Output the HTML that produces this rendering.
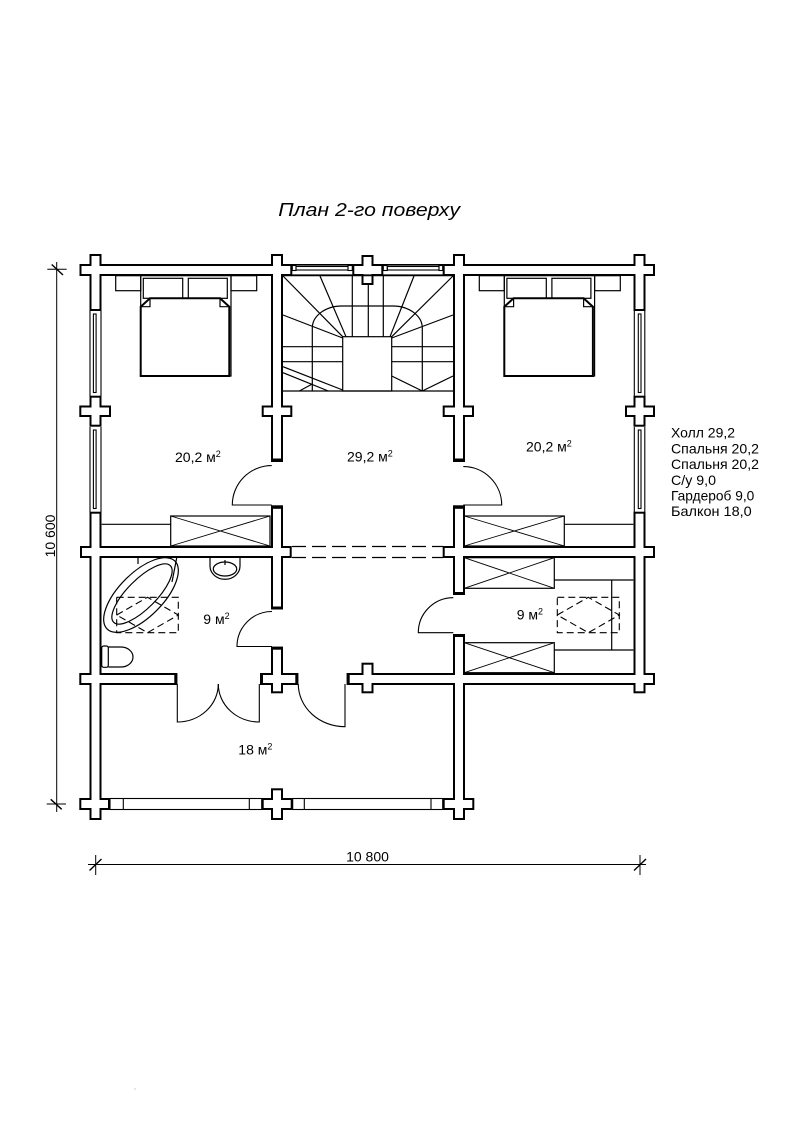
<!DOCTYPE html>
<html><head><meta charset="utf-8"><style>html,body{margin:0;padding:0;background:#fff}svg{display:block}</style></head>
<body>
<svg width="794" height="1123" viewBox="0 0 794 1123" xmlns="http://www.w3.org/2000/svg" font-family="'Liberation Sans', Arial, sans-serif">
<rect width="794" height="1123" fill="#fff"/>

<!-- Title -->
<text x="278.3" y="216" font-size="18.5" font-style="italic" textLength="181.7" lengthAdjust="spacingAndGlyphs">План 2-го поверху</text>

<!-- Walls: black outline layer -->
<g fill="#000" stroke="#000" stroke-width="4">
<rect x="81.5" y="266" width="208.8" height="8"/>
<rect x="354.3" y="266" width="27" height="8"/>
<rect x="444.7" y="266" width="208.3" height="8"/>
<rect x="91.5" y="256" width="8" height="53"/>
<rect x="91.5" y="397.7" width="8" height="27"/>
<rect x="81.3" y="407.5" width="27.7" height="7.5"/>
<rect x="91.5" y="513.7" width="8" height="304.3"/>
<rect x="273" y="256" width="8" height="203.7"/>
<rect x="263.7" y="407.5" width="26.6" height="7.5"/>
<rect x="273" y="507.5" width="8" height="100"/>
<rect x="273" y="648.7" width="8" height="42.6"/>
<rect x="273" y="790.3" width="8" height="27.7"/>
<rect x="263.7" y="800" width="27" height="8"/>
<rect x="363.5" y="257" width="8" height="26"/>
<rect x="363.5" y="664.7" width="8" height="26.6"/>
<rect x="455" y="256" width="8" height="203.7"/>
<rect x="444.7" y="407.5" width="27.3" height="7.5"/>
<rect x="455" y="507.5" width="8" height="85.5"/>
<rect x="455" y="636" width="8" height="182"/>
<rect x="444.7" y="800" width="27.6" height="8"/>
<rect x="635.5" y="256" width="8" height="53"/>
<rect x="635.5" y="397.7" width="8" height="27"/>
<rect x="627" y="407.5" width="26" height="7.5"/>
<rect x="635.5" y="513.7" width="8" height="177.6"/>
<rect x="82" y="548" width="207.7" height="8"/>
<rect x="444.7" y="548" width="208.3" height="8"/>
<rect x="81.3" y="675" width="94" height="8"/>
<rect x="262" y="675" width="34.3" height="8"/>
<rect x="348.7" y="675" width="304.3" height="8"/>
<rect x="81.3" y="800" width="26.7" height="8"/>
</g>
<!-- Walls: white fill layer -->
<g fill="#fff">
<rect x="81.5" y="266" width="208.8" height="8"/>
<rect x="354.3" y="266" width="27" height="8"/>
<rect x="444.7" y="266" width="208.3" height="8"/>
<rect x="91.5" y="256" width="8" height="53"/>
<rect x="91.5" y="397.7" width="8" height="27"/>
<rect x="81.3" y="407.5" width="27.7" height="7.5"/>
<rect x="91.5" y="513.7" width="8" height="304.3"/>
<rect x="273" y="256" width="8" height="203.7"/>
<rect x="263.7" y="407.5" width="26.6" height="7.5"/>
<rect x="273" y="507.5" width="8" height="100"/>
<rect x="273" y="648.7" width="8" height="42.6"/>
<rect x="273" y="790.3" width="8" height="27.7"/>
<rect x="263.7" y="800" width="27" height="8"/>
<rect x="363.5" y="257" width="8" height="26"/>
<rect x="363.5" y="664.7" width="8" height="26.6"/>
<rect x="455" y="256" width="8" height="203.7"/>
<rect x="444.7" y="407.5" width="27.3" height="7.5"/>
<rect x="455" y="507.5" width="8" height="85.5"/>
<rect x="455" y="636" width="8" height="182"/>
<rect x="444.7" y="800" width="27.6" height="8"/>
<rect x="635.5" y="256" width="8" height="53"/>
<rect x="635.5" y="397.7" width="8" height="27"/>
<rect x="627" y="407.5" width="26" height="7.5"/>
<rect x="635.5" y="513.7" width="8" height="177.6"/>
<rect x="82" y="548" width="207.7" height="8"/>
<rect x="444.7" y="548" width="208.3" height="8"/>
<rect x="81.3" y="675" width="94" height="8"/>
<rect x="262" y="675" width="34.3" height="8"/>
<rect x="348.7" y="675" width="304.3" height="8"/>
<rect x="81.3" y="800" width="26.7" height="8"/>
</g>

<!-- Door jamb caps -->
<g fill="#000">
<rect x="271" y="458.5" width="12" height="3.5"/>
<rect x="271" y="505.3" width="12" height="3.5"/>
<rect x="271" y="606.5" width="12" height="3"/>
<rect x="271" y="646.7" width="12" height="3"/>
<rect x="453" y="458.5" width="12" height="3.5"/>
<rect x="453" y="505.3" width="12" height="3.5"/>
<rect x="453" y="592" width="12" height="3"/>
<rect x="453" y="634" width="12" height="3"/>
<rect x="174.3" y="673" width="3" height="12"/>
<rect x="260" y="673" width="3" height="12"/>
<rect x="295.3" y="673" width="3" height="12"/>
<rect x="346.7" y="673" width="3" height="12"/>
</g>

<!-- Windows -->
<g fill="none" stroke="#000" stroke-width="1.1">
<line x1="90" y1="311" x2="90" y2="396"/><line x1="101" y1="311" x2="101" y2="396"/>
<rect x="93.4" y="314" width="2.7" height="78.5"/>
<line x1="90" y1="427" x2="90" y2="512"/><line x1="101" y1="427" x2="101" y2="512"/>
<rect x="93.4" y="430" width="2.7" height="78.5"/>
<line x1="634.3" y1="311" x2="634.3" y2="396"/><line x1="644.8" y1="311" x2="644.8" y2="396"/>
<rect x="638.3" y="314" width="2.7" height="78.5"/>
<line x1="634.3" y1="427" x2="634.3" y2="512"/><line x1="644.8" y1="427" x2="644.8" y2="512"/>
<rect x="638.3" y="430" width="2.7" height="78.5"/>
<line x1="292" y1="264.8" x2="352.5" y2="264.8" stroke-width="1.6"/>
<rect x="296" y="266.5" width="52" height="3.5"/>
<rect x="292.3" y="265.5" width="3.7" height="5"/>
<rect x="348" y="265.5" width="4.3" height="5"/>
<line x1="383" y1="264.8" x2="443" y2="264.8" stroke-width="1.6"/>
<rect x="387.3" y="266.5" width="51.7" height="3.5"/>
<rect x="383.3" y="265.5" width="4" height="5"/>
<rect x="439" y="265.5" width="3.7" height="5"/>
<rect x="110" y="798.5" width="151.7" height="11"/>
<line x1="123.3" y1="798.5" x2="123.3" y2="809.5"/>
<line x1="249.3" y1="798.5" x2="249.3" y2="809.5"/>
<rect x="292.7" y="798.5" width="150" height="11"/>
<line x1="304.3" y1="798.5" x2="304.3" y2="809.5"/>
<line x1="431" y1="798.5" x2="431" y2="809.5"/>
</g>
<line x1="283" y1="275.3" x2="453" y2="275.3" stroke="#000" stroke-width="1.8"/>

<!-- Stairs -->
<g fill="none" stroke="#000" stroke-width="1.2">
<line x1="283" y1="391" x2="453" y2="391"/>
<rect x="342.7" y="336.7" width="49" height="54.3"/>
<path d="M312.3,391 V328 A29.5,22 0 0 1 341.8,306 H392.8 A29.5,22 0 0 1 422.3,328 V391"/>
<line x1="283" y1="276" x2="342.7" y2="336.7"/>
<line x1="320" y1="276" x2="346" y2="336.7"/>
<line x1="283" y1="315" x2="342.7" y2="338"/>
<line x1="352.3" y1="276" x2="352.3" y2="336.7"/>
<line x1="368.3" y1="283" x2="368.3" y2="336.7"/>
<line x1="383.3" y1="276" x2="383.3" y2="336.7"/>
<line x1="453" y1="276" x2="391.7" y2="336.7"/>
<line x1="414" y1="276" x2="390" y2="336.7"/>
<line x1="453" y1="315" x2="391.7" y2="338"/>
<line x1="283" y1="346.7" x2="342.7" y2="346.7"/>
<line x1="283" y1="361.7" x2="342.7" y2="361.7"/>
<line x1="391.7" y1="346.7" x2="453" y2="346.7"/>
<line x1="391.7" y1="361.7" x2="453" y2="361.7"/>
<line x1="391.7" y1="376" x2="422.3" y2="391"/>
<line x1="422.3" y1="391" x2="453" y2="376"/>
<line x1="283" y1="366.7" x2="342.7" y2="390"/>
<line x1="283" y1="372.7" x2="328.3" y2="391"/>
<line x1="299.3" y1="391" x2="312.3" y2="384"/>
</g>

<!-- Dashed wall section -->
<g stroke="#000" stroke-width="1.2" stroke-dasharray="14,6">
<line x1="292" y1="546.5" x2="443" y2="546.5"/>
<line x1="292" y1="557.5" x2="443" y2="557.5"/>
</g>

<!-- Beds -->
<g fill="none" stroke="#000" stroke-width="1.2">
<rect x="115.7" y="275.7" width="25" height="15"/>
<rect x="231" y="275.7" width="25.7" height="15"/>
<rect x="140.7" y="275.7" width="90.3" height="100.3"/>
<rect x="143.3" y="278.3" width="39.4" height="20"/>
<rect x="188.3" y="278.3" width="39" height="20"/>
<path d="M140.7,306.7 L150,298.3 L220,298.3 L229.3,306.7 L229.3,376 L140.7,376 Z" stroke-width="2"/>
<path d="M150,298.3 V306.7 H140.7 M220,298.3 V306.7 H229.3"/>
</g>
<g fill="none" stroke="#000" stroke-width="1.2" transform="translate(363.6,0)">
<rect x="115.7" y="275.7" width="25" height="15"/>
<rect x="231" y="275.7" width="25.7" height="15"/>
<rect x="140.7" y="275.7" width="90.3" height="100.3"/>
<rect x="143.3" y="278.3" width="39.4" height="20"/>
<rect x="188.3" y="278.3" width="39" height="20"/>
<path d="M140.7,306.7 L150,298.3 L220,298.3 L229.3,306.7 L229.3,376 L140.7,376 Z" stroke-width="2"/>
<path d="M150,298.3 V306.7 H140.7 M220,298.3 V306.7 H229.3"/>
</g>

<!-- Wardrobes -->
<g fill="none" stroke="#000" stroke-width="1.2">
<rect x="170.7" y="516" width="99.3" height="30"/>
<line x1="101.7" y1="524.3" x2="170.7" y2="524.3"/>
<rect x="464.3" y="516" width="100" height="30"/>
<line x1="564.3" y1="524.3" x2="633.3" y2="524.3"/>
<rect x="464.3" y="557.7" width="90" height="30.6"/>
<rect x="464.3" y="642.7" width="90" height="30"/>
<line x1="554.3" y1="580" x2="633.3" y2="580"/>
<line x1="611.7" y1="580" x2="611.7" y2="650"/>
<line x1="554.3" y1="650" x2="633.3" y2="650"/>
</g>
<g stroke="#000" stroke-width="0.9">
<line x1="170.7" y1="516" x2="270" y2="546"/><line x1="170.7" y1="546" x2="270" y2="516"/>
<line x1="464.3" y1="516" x2="564.3" y2="546"/><line x1="464.3" y1="546" x2="564.3" y2="516"/>
<line x1="464.3" y1="557.7" x2="554.3" y2="588.3"/><line x1="464.3" y1="588.3" x2="554.3" y2="557.7"/>
<line x1="464.3" y1="642.7" x2="554.3" y2="672.7"/><line x1="464.3" y1="672.7" x2="554.3" y2="642.7"/>
</g>

<!-- Dashed rugs -->
<g fill="none" stroke="#000" stroke-width="1.1" stroke-dasharray="7,4">
<rect x="116.7" y="597.3" width="61.6" height="35.4"/>
<path d="M116.7,615 L147.5,597.3 L178.3,615 L147.5,632.7 Z"/>
<rect x="557.3" y="597.3" width="62" height="35.4"/>
<path d="M557.3,615 L588.3,597.3 L619.3,615 L588.3,632.7 Z"/>
</g>

<!-- Bathroom fixtures -->
<g fill="none" stroke="#000" stroke-width="1.2">
<ellipse cx="141" cy="595" rx="48" ry="22" transform="rotate(-45 141 595)"/>
<ellipse cx="142" cy="594" rx="40" ry="14.5" transform="rotate(-45 142 594)"/>
<line x1="176.7" y1="558" x2="172" y2="582"/>
<line x1="138" y1="558" x2="138" y2="564"/>
<rect x="101.7" y="646" width="6.6" height="21.3" rx="2"/>
<path d="M108.3,647 H121 A12,10 0 0 1 121,667 H108.3"/>
<path d="M210,558 V566 A15,13.3 0 0 0 240,566 V558"/>
<ellipse cx="225" cy="569" rx="11.7" ry="7"/>
<line x1="225" y1="560" x2="225" y2="565"/>
</g>

<!-- Doors -->
<g fill="none" stroke="#000" stroke-width="1.1">
<path d="M271.7,505 H232.3 A39.4,39.4 0 0 1 271.7,465.6"/>
<path d="M463.3,505 H501.7 A38.4,38.4 0 0 0 463.3,466.6"/>
<path d="M272,646.5 H237 A35,35 0 0 1 272,611.5"/>
<path d="M453.3,632.7 H418.3 A35,35 0 0 1 453.3,597.7"/>
<path d="M177.3,684 V722 A41,38 0 0 0 218.3,684"/>
<path d="M259.3,684 V722 A41,38 0 0 1 218.3,684"/>
<path d="M345,684 V726.7 A46.7,42.7 0 0 1 298.3,684"/>
</g>

<!-- Room labels -->
<g font-size="14" fill="#000">
<text x="175" y="462">20,2 м<tspan font-size="9" dy="-5">2</tspan></text>
<text x="347" y="461.7">29,2 м<tspan font-size="9" dy="-5">2</tspan></text>
<text x="526" y="451.7">20,2 м<tspan font-size="9" dy="-5">2</tspan></text>
<text x="203.3" y="624">9 м<tspan font-size="9" dy="-5">2</tspan></text>
<text x="516.7" y="619.3">9 м<tspan font-size="9" dy="-5">2</tspan></text>
<text x="238.3" y="754.3">18 м<tspan font-size="9" dy="-5">2</tspan></text>
</g>

<!-- Legend -->
<g font-size="14" fill="#000">
<text x="671" y="437.7" textLength="64" lengthAdjust="spacingAndGlyphs">Холл 29,2</text>
<text x="671" y="453.4" textLength="88" lengthAdjust="spacingAndGlyphs">Спальня 20,2</text>
<text x="671" y="469.1" textLength="88" lengthAdjust="spacingAndGlyphs">Спальня 20,2</text>
<text x="671" y="484.8" textLength="45" lengthAdjust="spacingAndGlyphs">С/у 9,0</text>
<text x="671" y="500.5" textLength="83.3" lengthAdjust="spacingAndGlyphs">Гардероб 9,0</text>
<text x="671" y="516.2" textLength="80.7" lengthAdjust="spacingAndGlyphs">Балкон 18,0</text>
</g>

<!-- Dimensions -->
<g stroke="#000" stroke-width="1" fill="none">
<line x1="56.7" y1="262" x2="56.7" y2="812"/>
<line x1="47.3" y1="269.3" x2="66.7" y2="269.3"/>
<line x1="51.7" y1="264.5" x2="63" y2="275" stroke-width="1.4"/>
<line x1="46.7" y1="804" x2="66" y2="804"/>
<line x1="50.7" y1="799.3" x2="61.7" y2="809.3" stroke-width="1.4"/>
<line x1="88" y1="864.5" x2="646" y2="864.5"/>
<line x1="95.7" y1="855" x2="95.7" y2="875"/>
<line x1="89.5" y1="870.5" x2="101.5" y2="859" stroke-width="1.4"/>
<line x1="640" y1="855" x2="640" y2="875"/>
<line x1="634" y1="870.5" x2="646" y2="859" stroke-width="1.4"/>
</g>
<text x="55" y="536" font-size="14" text-anchor="middle" transform="rotate(-90 55 536)">10 600</text>
<text x="367.5" y="861.5" font-size="14" text-anchor="middle">10 800</text>
<rect x="134.5" y="1088.5" width="1" height="1" fill="#999"/>
</svg>
</body></html>
